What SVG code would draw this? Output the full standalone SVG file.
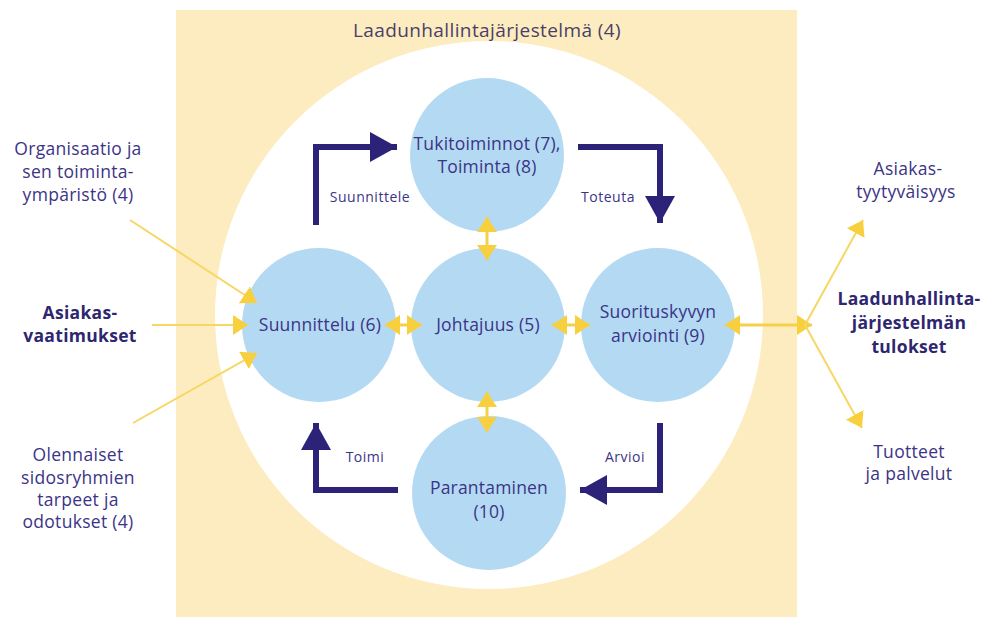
<svg xmlns="http://www.w3.org/2000/svg" width="984" height="617" viewBox="0 0 984 617">
<defs>
<style>
text{font-family:"Open Sans","Noto Sans","Liberation Sans",sans-serif;fill:#3b3486;text-anchor:middle;font-weight:500}
.side{font-size:17.5px;letter-spacing:0.3px}
.bold{font-weight:700;fill:#2e2770}
.node{font-size:17.5px;letter-spacing:0.2px}
.lbl{font-size:14px;font-weight:500;letter-spacing:0.5px}
.title{font-size:19px;fill:#4a3f68;letter-spacing:0.4px}
.circ{fill:#b4daf3}
.ylw{stroke:#f7d04a;stroke-width:3;fill:none}
.ythin{stroke:#f7d763;stroke-width:2;fill:none}
.navy{stroke:#2c2378;stroke-width:6;fill:none}
</style>
<marker id="ya" viewBox="0 0 15 20" refX="15" refY="10" markerWidth="15" markerHeight="20" markerUnits="userSpaceOnUse" orient="auto-start-reverse">
<path d="M0,0 L15,10 L0,20 z" fill="#f8cf3c"/>
</marker>
<marker id="na" viewBox="0 0 27 30" refX="27" refY="15" markerWidth="27" markerHeight="30" markerUnits="userSpaceOnUse" orient="auto">
<path d="M0,0 L27,15 L0,30 z" fill="#2c2378"/>
</marker>
</defs>
<rect width="984" height="617" fill="#ffffff"/>
<rect x="176" y="10" width="621" height="607" fill="#fdecc0"/>
<circle cx="489" cy="315" r="274" fill="#ffffff"/>
<text class="title" x="487" y="37">Laadunhallintajärjestelmä (4)</text>

<g id="tukitoiminnot">
<circle class="circ" cx="487" cy="155" r="77"/>
<text class="node" x="487" y="150">Tukitoiminnot (7),</text>
<text class="node" x="487" y="173">Toiminta (8)</text>
</g>
<g id="suunnittelu">
<circle class="circ" cx="319" cy="325" r="77"/>
<text class="node" x="320" y="331">Suunnittelu (6)</text>
</g>
<g id="johtajuus">
<circle class="circ" cx="488" cy="325" r="77"/>
<text class="node" x="488" y="331">Johtajuus (5)</text>
</g>
<g id="suorituskyky">
<circle class="circ" cx="658" cy="325" r="77"/>
<text class="node" x="658" y="318">Suorituskyvyn</text>
<text class="node" x="658" y="342">arviointi (9)</text>
</g>
<g id="parantaminen">
<circle class="circ" cx="489" cy="493" r="77"/>
<text class="node" x="489" y="494">Parantaminen</text>
<text class="node" x="489" y="518">(10)</text>
</g>

<g id="connectors">
<path class="ylw" d="M487,217 L487,260" marker-start="url(#ya)" marker-end="url(#ya)"/>
<path class="ylw" d="M487,392 L487,432" marker-start="url(#ya)" marker-end="url(#ya)"/>
<path class="ylw" d="M385,325 L422,325" marker-start="url(#ya)" marker-end="url(#ya)"/>
<path class="ylw" d="M552,325 L590,325" marker-start="url(#ya)" marker-end="url(#ya)"/>
<path class="ylw" d="M725,325 L812,325" marker-start="url(#ya)" marker-end="url(#ya)"/>
<path class="ythin" d="M805,325 L863,220" marker-end="url(#ya)"/>
<path class="ythin" d="M805,325 L862,428" marker-end="url(#ya)"/>
<path class="ythin" d="M130,220 L257,303" marker-end="url(#ya)"/>
<path class="ythin" d="M152,325 L248,325" marker-end="url(#ya)"/>
<path class="ythin" d="M133,423 L257,353" marker-end="url(#ya)"/>
<path class="navy" d="M316,225 V147 H397" marker-end="url(#na)"/>
<path class="navy" d="M578,147 H660 V223" marker-end="url(#na)"/>
<path class="navy" d="M660,423 V490 H580" marker-end="url(#na)"/>
<path class="navy" d="M398,490 H316 V423" marker-end="url(#na)"/>
<text class="lbl" x="370" y="202">Suunnittele</text>
<text class="lbl" x="608" y="202">Toteuta</text>
<text class="lbl" x="365" y="462">Toimi</text>
<text class="lbl" x="625" y="462">Arvioi</text>
</g>

<g id="organisaatio">
<text class="side" x="78" y="155">Organisaatio ja</text>
<text class="side" x="78" y="178">sen toiminta-</text>
<text class="side" x="78" y="201">ympäristö (4)</text>
</g>
<g id="asiakasvaatimukset">
<text class="side bold" x="80" y="319">Asiakas-</text>
<text class="side bold" x="80" y="342">vaatimukset</text>
</g>
<g id="olennaiset">
<text class="side" x="78" y="461">Olennaiset</text>
<text class="side" x="78" y="484">sidosryhmien</text>
<text class="side" x="78" y="506">tarpeet ja</text>
<text class="side" x="78" y="528">odotukset (4)</text>
</g>
<g id="asiakastyytyvaisyys">
<text class="side" x="908" y="175">Asiakas-</text>
<text class="side" x="906" y="198">tyytyväisyys</text>
</g>
<g id="tulokset">
<text class="side bold" x="909" y="305">Laadunhallinta-</text>
<text class="side bold" x="909" y="329">järjestelmän</text>
<text class="side bold" x="909" y="353">tulokset</text>
</g>
<g id="tuotteet">
<text class="side" x="909" y="458">Tuotteet</text>
<text class="side" x="909" y="480">ja palvelut</text>
</g>
</svg>
